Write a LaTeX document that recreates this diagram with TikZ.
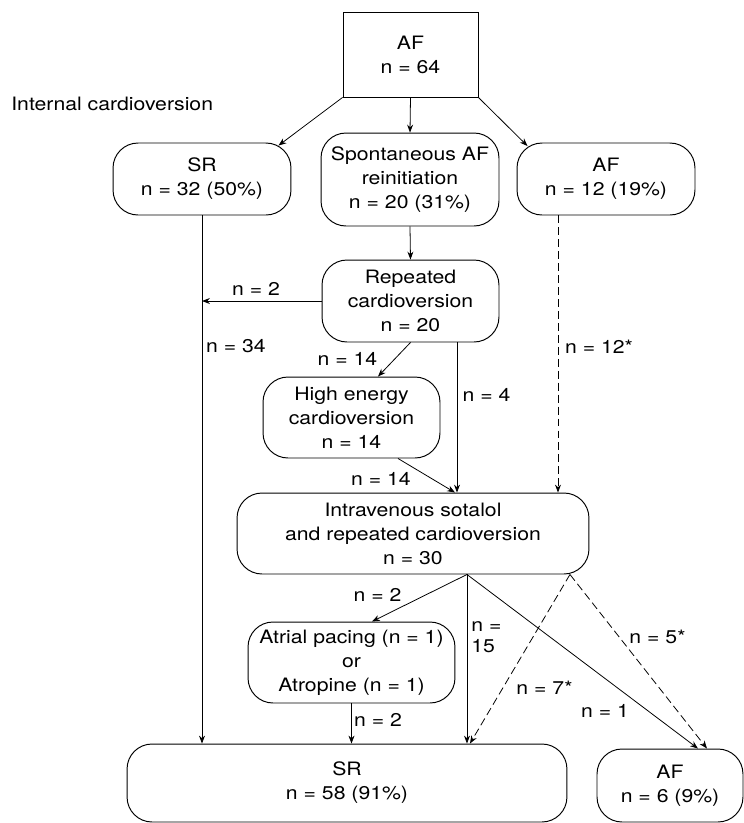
\documentclass[tikz,border=0pt]{standalone}
\usepackage{fontspec}
\setmainfont{TeX Gyre Heros}[FakeStretch=1.15]
\usetikzlibrary{arrows.meta}

\begin{document}
\begin{tikzpicture}[x=0.02cm, y=-0.02cm, >={Stealth[length=4.5pt, width=3.4pt]},
		every node/.style={font=\fontsize{10.5}{13.7}\selectfont, align=center, inner sep=0pt},
		stepbox/.style={rectangle, draw, line width=0.5pt},
		roundbox/.style={rectangle, rounded corners=0.5cm, draw, line width=0.55pt},
		flow/.style={->, line width=0.45pt},
		flowD/.style={->, line width=0.45pt, dash pattern=on 4.5pt off 2.3pt}]
		\useasboundingbox (0,0) rectangle (744,823);
		%Kästen
		\node (afTop) [stepbox, minimum width=2.7cm, minimum height=1.7cm] at (410.5,54.5) {AF\\n = 64};
		\node (intCV) [anchor=base west] at (11,110.7) {Internal cardioversion};
		\node (srLeft) [roundbox, minimum width=3.56cm, minimum height=1.44cm] at (202,179) {SR\\n = 32 (50\%)};
		\node (spontAF) [roundbox, minimum width=3.56cm, minimum height=1.86cm] at (410,179.5) {Spontaneous AF\\reinitiation\\n = 20 (31\%)};
		\node (afRight) [roundbox, minimum width=3.56cm, minimum height=1.44cm] at (606,179) {AF\\n = 12 (19\%)};
		\node (repCV) [roundbox, minimum width=3.54cm, minimum height=1.64cm] at (410.5,301) {Repeated\\cardioversion\\n = 20};
		\node (highCV) [roundbox, minimum width=3.54cm, minimum height=1.62cm] at (351.5,417.5) {High energy\\cardioversion\\n = 14};
		\node (sotalol) [roundbox, minimum width=7.04cm, minimum height=1.62cm] at (413,533.5) {Intravenous sotalol\\and repeated cardioversion\\n = 30};
		\node (pacing) [roundbox, minimum width=4.14cm, minimum height=1.62cm] at (351.5,662.5) {Atrial pacing (n = 1)\\or\\Atropine (n = 1)};
		\node (srEnd) [roundbox, minimum width=8.8cm, minimum height=1.56cm] at (347,783) {SR\\n = 58 (91\%)};
		\node (afEnd) [roundbox, minimum width=2.92cm, minimum height=1.46cm] at (670,785.5) {AF\\n = 6 (9\%)};
		%Hilfspunkte
		\coordinate (rep4) at ([xshift=0.93cm]repCV.south);
		\coordinate (sot4) at (rep4 |- sotalol.north);
		\coordinate (af12) at ([xshift=-0.96cm]afRight.south);
		\coordinate (fanS) at ([xshift=1.08cm]sotalol.south);
		\coordinate (fanD) at ([xshift=3.14cm]sotalol.south);
		\coordinate (sr15) at (fanS |- srEnd.north);
		%Pfeile
		\draw [flow] (afTop.south west) to ([shift={(-0.26cm,-0.06cm)}]srLeft.north east);
		\draw [flow] (afTop.south) to (spontAF.north);
		\draw [flow] (afTop.south east) to ([shift={(0.22cm,-0.07cm)}]afRight.north west);
		\draw [flow] (spontAF.south) to (repCV.north);
		\draw [flow] (repCV.west) to (repCV.west -| srLeft.south);
		\draw [flow] (srLeft.south) to (srLeft.south |- srEnd.north);
		\draw [flow] (repCV.south) to ([xshift=0.53cm]highCV.north);
		\draw [flow] (rep4) to (sot4);
		\draw [flow] ([xshift=0.93cm]highCV.south) to ([xshift=-0.04cm]sot4);
		\draw [flowD] (af12) to (af12 |- sotalol.north);
		\draw [flow] (fanS) to ([xshift=0.41cm]pacing.north);
		\draw [flow] (fanS) to (sr15);
		\draw [flow] (fanS) to ([xshift=0.56cm]afEnd.north);
		\draw [flowD] (fanD) to ([xshift=0.06cm]sr15);
		\draw [flowD] (fanD) to ([xshift=0.74cm]afEnd.north);
		\draw [flow] (pacing.south) to (pacing.south |- srEnd.north);
		%Beschriftungen
		\node (n2rep) at (256,289) {n = 2};
		\node (n34) at (236,346) {n = 34};
		\node (n14a) at (347.5,359) {n = 14};
		\node (n4) at (486.5,395) {n = 4};
		\node (n12) at (599,347) {n = 12*};
		\node (n14b) at (381,479) {n = 14};
		\node (n2pac) at (377.5,595) {n = 2};
		\node (n15) [anchor=west, align=left] at (471,637) {n =\\[-1.5pt]15};
		\node (n5) at (657.5,637) {n = 5*};
		\node (n7) at (544.5,688) {n = 7*};
		\node (n1) at (605,711) {n = 1};
		\node (n2sr) at (378,720) {n = 2};
	\end{tikzpicture}
\end{document}
